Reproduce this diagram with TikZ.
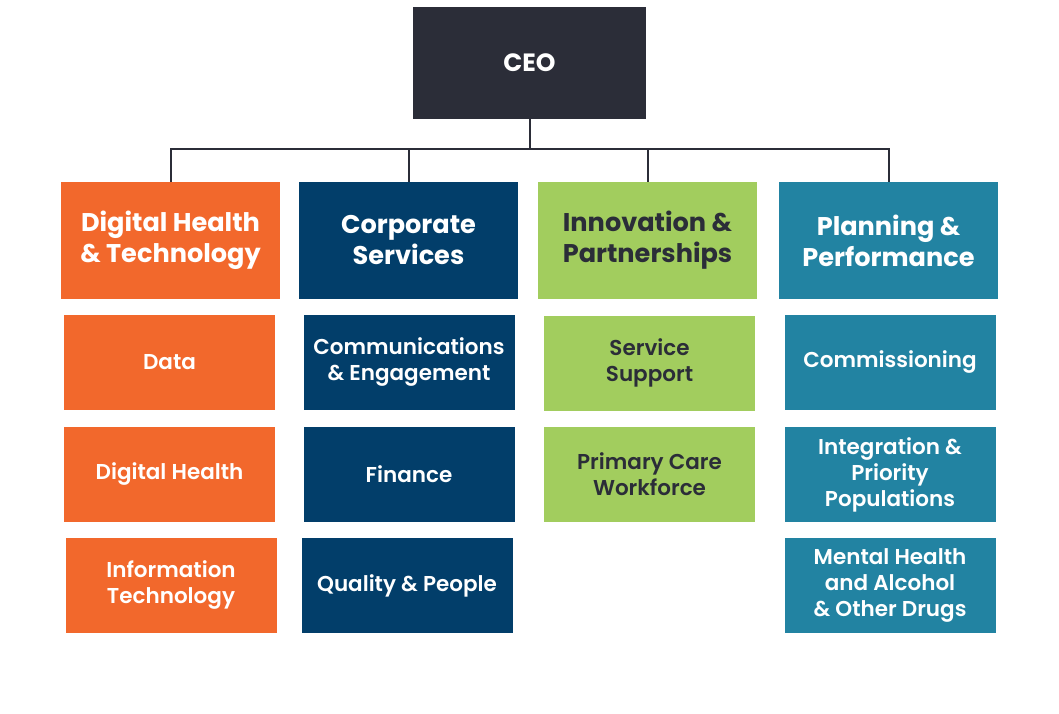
\documentclass[tikz,border=0pt]{standalone}
\usepackage{fontspec}
\setmainfont{Poppins}[BoldFont=* Bold]
\newfontfamily\popsemi{Poppins SemiBold}
\usepackage{tikz}
\usetikzlibrary{positioning, calc}
\definecolor{ceogray}{HTML}{2B2D38}
\definecolor{dhtorange}{HTML}{F2682C}
\definecolor{corpnavy}{HTML}{023E6A}
\definecolor{innogreen}{HTML}{A2CD5E}
\definecolor{planteal}{HTML}{2283A2}
\tikzset{
  orgnode/.style = {align=center, inner sep=0pt, text centered, font=\bfseries},
  org_top/.style = {orgnode, rectangle, white, fill=ceogray, minimum width=233, minimum height=112, font=\bfseries\fontsize{25}{30}\selectfont},
  org_hd/.style = {orgnode, rectangle, minimum width=219, minimum height=117, font=\bfseries\fontsize{25.6}{31}\selectfont},
  org_sub/.style = {orgnode, rectangle, minimum width=211, minimum height=95, font=\popsemi\fontsize{21.5}{26}\selectfont},
  org_o/.style = {white, fill=dhtorange},
  org_n/.style = {white, fill=corpnavy},
  org_g/.style = {ceogray, fill=innogreen},
  org_t/.style = {white, fill=planteal},
  orglink/.style = {draw=ceogray, line width=2pt}
}
\begin{document}
\begin{tikzpicture}[x=1pt, y=-1pt]
  \useasboundingbox[fill=white] (0,0) rectangle (1059,714);
  % top
  \node [org_top] (ceo) at (529.5,63) {CEO};
  \coordinate (bar) at (529.5,149);
  % departments
  \node [org_hd, org_o] (dht) at (170.5,240.5) {Digital Health\\\& Technology};
  \node [org_hd, org_n] (corp) at (408.5,240.5) {Corporate\\Services};
  \node [org_hd, org_g] (inno) at (647.5,240.5) {Innovation \&\\Partnerships};
  \node [org_hd, org_t] (plan) at (888.5,240.5) {Planning \&\\Performance};
  \foreach \d in {dht, corp, inno, plan}
    \draw [orglink] (ceo.south) -- (bar) -| (\d.north);
  % teams
  \node [org_sub, org_o] (data) at (169.5,362.5) {Data};
  \node [org_sub, org_o] (dhealth) at (169.5,474.5) {Digital Health};
  \node [org_sub, org_o] (itech) at (171,585.5) {Information\\Technology};
  \node [org_sub, org_n] (comms) at (409,362.5) {Communications\\\& Engagement};
  \node [org_sub, org_n] (fin) at (409,474.5) {Finance};
  \node [org_sub, org_n] (qual) at (407,585.5) {Quality \& People};
  \node [org_sub, org_g] (servsup) at (649.5,363) {Service\\Support};
  \node [org_sub, org_g] (pcw) at (649.5,474.5) {Primary Care\\Workforce};
  \node [org_sub, org_t] (commis) at (890,362.5) {Commissioning};
  \node [org_sub, org_t] (integ) at (890,474.5) {Integration \&\\Priority\\Populations};
  \node [org_sub, org_t] (mhaod) at (890,585.5) {Mental Health\\and Alcohol\\\& Other Drugs};
\end{tikzpicture}
\end{document}
